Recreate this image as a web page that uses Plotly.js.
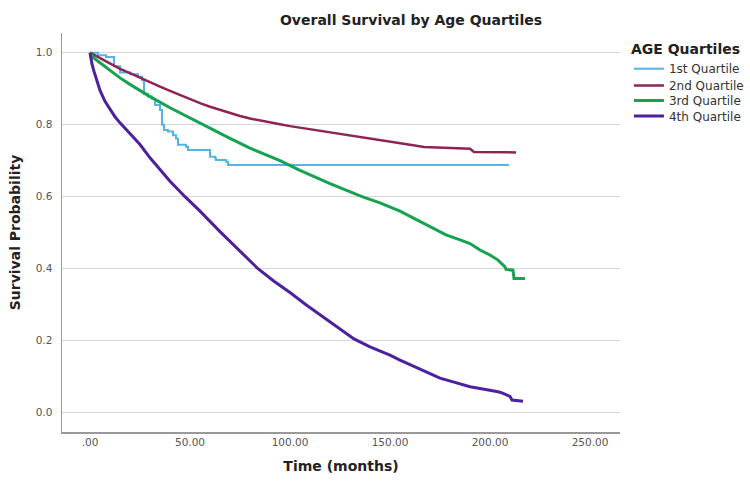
<!DOCTYPE html>
<html>
<head>
<meta charset="utf-8">
<script src="https://cdn.plot.ly/plotly-3.0.1.min.js"></script>
<style>html,body{margin:0;padding:0;background:#fff;}#chart{width:750px;height:489px;}</style>
</head>
<body>
<div id="chart"></div>
<script>
// Series names
const seriesNames = ["1st Quartile", "2nd Quartile", "3rd Quartile", "4th Quartile"];

// 1st Quartile (months, survival) - step function
const q1Time = [0, 4, 8, 12, 15, 20, 24, 26, 27, 29, 31, 32.5, 35, 36, 37, 39, 41.5, 43, 44, 48, 49, 60, 62.5, 63, 68, 69, 209.5];
const q1Surv = [1.0, 0.993, 0.988, 0.962, 0.945, 0.94, 0.933, 0.924, 0.885, 0.878, 0.872, 0.855, 0.841, 0.80, 0.785, 0.781, 0.771, 0.762, 0.744, 0.739, 0.730, 0.711, 0.707, 0.702, 0.697, 0.688, 0.688];

// 2nd Quartile
const q2Time = [0, 2, 5, 10, 15, 20, 25, 30, 35, 40, 45, 50, 55, 60, 65, 70, 75, 80, 85, 90, 95, 100, 110, 120, 130, 140, 150, 160, 167, 175, 185, 190, 192, 200, 213];
const q2Surv = [1.0, 0.994, 0.984, 0.968, 0.955, 0.943, 0.930, 0.918, 0.906, 0.894, 0.882, 0.871, 0.860, 0.850, 0.841, 0.832, 0.824, 0.817, 0.811, 0.806, 0.801, 0.796, 0.787, 0.778, 0.770, 0.760, 0.751, 0.744, 0.738, 0.736, 0.734, 0.733, 0.724, 0.723, 0.723];

// 3rd Quartile
const q3Time = [0, 2, 5, 10, 15, 20, 25, 30, 40, 50, 60, 70, 80, 90, 95, 105, 120, 136, 145, 155, 162, 170, 178, 185, 190, 195, 200, 204, 207.5, 208, 211.5, 212, 217.5];
const q3Surv = [1.0, 0.985, 0.972, 0.950, 0.930, 0.912, 0.895, 0.878, 0.847, 0.818, 0.790, 0.762, 0.735, 0.711, 0.700, 0.673, 0.636, 0.600, 0.583, 0.560, 0.540, 0.518, 0.494, 0.480, 0.470, 0.452, 0.438, 0.424, 0.405, 0.398, 0.396, 0.373, 0.373];

// 4th Quartile
const q4Time = [0, 0.5, 1, 2, 3, 5, 7.5, 10, 12.5, 15, 20, 25, 30, 35, 40, 47.5, 55, 65, 75, 84, 92, 100, 108, 115, 124, 132, 140, 145, 150, 155, 162, 168, 175, 182, 190, 195, 200, 204, 206, 209, 210, 211, 216.5];
const q4Surv = [1.0, 0.98, 0.968, 0.948, 0.93, 0.895, 0.865, 0.843, 0.822, 0.805, 0.776, 0.745, 0.708, 0.675, 0.643, 0.600, 0.560, 0.503, 0.450, 0.400, 0.365, 0.334, 0.300, 0.272, 0.237, 0.205, 0.183, 0.172, 0.160, 0.146, 0.128, 0.112, 0.096, 0.085, 0.072, 0.067, 0.063, 0.058, 0.055, 0.049, 0.045, 0.035, 0.032];

// Axis ticks
const xTickVals = [0, 50, 100, 150, 200, 250];
const xTickText = [".00", "50.00", "100.00", "150.00", "200.00", "250.00"];
const yTickVals = [0, 0.2, 0.4, 0.6, 0.8, 1.0];

const FONT = "DejaVu Sans, Verdana, sans-serif";
const colors = ["#55b4e6", "#8e2356", "#17a24f", "#4d20a0"];
const widths = [2, 2.5, 3, 3];
const shapes = ["hv", "linear", "linear", "linear"];
const legendIds = ["legend", "legend2", "legend3", "legend4"];
const times = [q1Time, q2Time, q3Time, q4Time];
const survs = [q1Surv, q2Surv, q3Surv, q4Surv];

const traces = seriesNames.map((n, i) => ({
  type: "scatter", mode: "lines", name: n, legend: legendIds[i],
  x: times[i], y: survs[i],
  line: {color: colors[i], width: widths[i], shape: shapes[i]}
}));

const itemFont = {family: FONT, size: 12, color: "#333"};
function legendAt(ypx) {
  return {x: 1.016, xanchor: "left", y: (432 - ypx) / 399, yanchor: "top",
          font: itemFont, itemwidth: 30, bgcolor: "rgba(0,0,0,0)"};
}

const layout = {
  width: 750, height: 489,
  margin: {l: 62, r: 130, t: 33, b: 57, autoexpand: false},
  paper_bgcolor: "#fff", plot_bgcolor: "#fff",
  font: {family: FONT, color: "#333"},
  title: {text: "<b>Overall Survival by Age Quartiles</b>", font: {family: FONT, size: 14, color: "#222"},
          x: 411/750, xanchor: "center", y: 1 - 20/489, yanchor: "middle"},
  xaxis: {
    range: [-14, 265], tickvals: xTickVals, ticktext: xTickText, automargin: false,
    showgrid: false, zeroline: false, showline: true, linecolor: "#999", linewidth: 1.5,
    ticks: "", tickfont: {family: FONT, size: 10.5, color: "#555"},
    title: {text: "<b>Time (months)</b>", font: {family: FONT, size: 14, color: "#222"}, standoff: 14}
  },
  yaxis: {
    range: [-0.0536, 1.0547], tickvals: yTickVals, tickformat: ".1f", automargin: false,
    showgrid: true, gridcolor: "#d8d8d8", gridwidth: 1.2, zeroline: false,
    showline: true, linecolor: "#999", linewidth: 1.5,
    ticks: "", ticklabelstandoff: 6, tickfont: {family: FONT, size: 10.5, color: "#555"},
    title: {text: "<b>Survival Probability</b>", font: {family: FONT, size: 14, color: "#222"}, standoff: 12}
  },
  legend: Object.assign(legendAt(36), {title: {text: "<b>AGE Quartiles</b>", font: {family: FONT, size: 14, color: "#222"}}}),
  legend2: legendAt(71),
  legend3: legendAt(86),
  legend4: legendAt(101.5),
  showlegend: true
};

Plotly.newPlot("chart", traces, layout, {displayModeBar: false, staticPlot: true});
</script>
</body>
</html>
